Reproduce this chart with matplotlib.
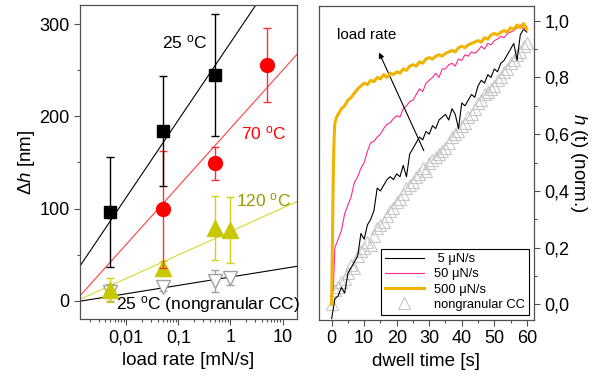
import numpy as np
import matplotlib
matplotlib.use('Agg')
import matplotlib.pyplot as plt
from matplotlib.ticker import FuncFormatter, MultipleLocator, LogLocator

plt.rcParams['font.family'] = ['Liberation Sans', 'DejaVu Sans']
plt.rcParams['mathtext.fontset'] = 'custom'
plt.rcParams['mathtext.rm'] = 'Liberation Sans'
plt.rcParams['mathtext.it'] = 'Liberation Sans:italic'

# ---- left panel data: creep depth vs load rate ----
rate_25 = [0.005, 0.05, 0.5]
dh_25 = [96, 184, 245]
err_25 = [60, 60, 66]

rate_70 = [0.05, 0.5, 5]
dh_70 = [99, 149, 256]
err_70 = [64, 18, 40]

rate_120 = [0.005, 0.05, 0.5, 1]
dh_120 = [11, 35, 79, 77]
err_120 = [13, 8, 35, 36]

rate_ng = [0.005, 0.05, 0.5, 1]
dh_ng = [9, 15, 21, 24]
err_ng = [9, 5, 12, 7]

# fit lines dh = a + b*log10(rate)
fit_25 = (280, 84)
fit_70 = (187, 63)
fit_120 = (75, 25.5)
fit_ng = (25.6, 9.1)

# ---- right panel data: normalised depth vs dwell time ----
t_5 = list(range(0, 61))
h_5 = [-0.05, 0.02, 0.03, 0.06, 0.04, 0.11, 0.13, 0.15, 0.17, 0.25, 0.23,
       0.28, 0.30, 0.33, 0.41, 0.40, 0.42, 0.44, 0.45, 0.44, 0.46,
       0.45, 0.49, 0.45, 0.53, 0.55, 0.57, 0.59, 0.58, 0.61, 0.60,
       0.63, 0.62, 0.65, 0.66, 0.67, 0.65, 0.69, 0.67, 0.62, 0.71,
       0.70, 0.72, 0.74, 0.73, 0.77, 0.79, 0.78, 0.81, 0.80, 0.83,
       0.82, 0.85, 0.86, 0.88, 0.90, 0.92, 0.86, 0.95, 0.97, 0.96]

t_50 = [0.5] + list(range(1, 61))
h_50 = [0.05, 0.20, 0.23, 0.26, 0.32, 0.35, 0.38, 0.43, 0.45, 0.48, 0.50,
        0.54, 0.57, 0.575, 0.59, 0.60, 0.62, 0.635, 0.64, 0.655, 0.665,
        0.66, 0.69, 0.70, 0.715, 0.72, 0.74, 0.76, 0.75, 0.78, 0.79,
        0.80, 0.815, 0.80, 0.83, 0.83, 0.845, 0.85, 0.84, 0.865, 0.86,
        0.88, 0.875, 0.89, 0.885, 0.895, 0.91, 0.90, 0.92, 0.915, 0.93,
        0.935, 0.945, 0.94, 0.955, 0.96, 0.965, 0.975, 0.985, 0.97, 0.98]

t_500 = [0, 0.2, 0.4, 0.6, 0.8, 1, 1.5] + list(range(2, 61))
h_500 = [0, 0.18, 0.38, 0.52, 0.60, 0.64, 0.66, 0.67, 0.69, 0.70, 0.72,
         0.73, 0.745, 0.76, 0.77, 0.78, 0.775, 0.79, 0.785, 0.80, 0.795,
         0.81, 0.80, 0.815, 0.81, 0.82, 0.815, 0.83, 0.825, 0.84, 0.845,
         0.84, 0.855, 0.85, 0.865, 0.87, 0.865, 0.875, 0.88, 0.875, 0.885,
         0.89, 0.895, 0.89, 0.905, 0.91, 0.905, 0.915, 0.92, 0.925, 0.93,
         0.925, 0.94, 0.935, 0.95, 0.955, 0.95, 0.96, 0.965, 0.96, 0.975,
         0.97, 0.985, 0.975, 0.99, 0.97]

t_ng = list(range(0, 61))
h_ng = [0.0, 0.05, 0.06, 0.08, 0.09, 0.11, 0.14, 0.13, 0.17, 0.19, 0.20,
        0.22, 0.21, 0.24, 0.27, 0.28, 0.29, 0.31, 0.33, 0.34, 0.36,
        0.37, 0.39, 0.41, 0.42, 0.43, 0.45, 0.46, 0.48, 0.47, 0.50,
        0.51, 0.52, 0.53, 0.54, 0.55, 0.57, 0.59, 0.60, 0.61, 0.63,
        0.64, 0.66, 0.67, 0.69, 0.71, 0.72, 0.74, 0.75, 0.76, 0.77,
        0.79, 0.80, 0.82, 0.83, 0.85, 0.86, 0.88, 0.89, 0.91, 0.92]

fig = plt.figure(figsize=(5.98, 3.80), dpi=100)
ax1 = fig.add_axes([0.1338, 0.1605, 0.3629, 0.8263])
ax2 = fig.add_axes([0.5334, 0.1579, 0.3595, 0.8271])

spine_col = '#505050'
deg = r'$^{\rm o}$'

# ---------- left ----------
xfit = np.logspace(np.log10(0.0013), np.log10(19), 50)
for (a, b), c in [(fit_25, 'black'), (fit_70, '#ff4040'), (fit_120, '#d8d830'), (fit_ng, 'black')]:
    ax1.plot(xfit, a + b * np.log10(xfit), color=c, lw=0.8, zorder=1)

ax1.errorbar(rate_ng, dh_ng, yerr=err_ng, fmt='v', ms=10, mfc='white', mec='#a0a0a0',
             ecolor='#a0a0a0', elinewidth=1, capsize=3, zorder=2)
ax1.errorbar(rate_120, dh_120, yerr=err_120, fmt='^', ms=11, color='#c8c800',
             ecolor='#d0d020', elinewidth=1, capsize=3, zorder=3)
ax1.errorbar(rate_70, dh_70, yerr=err_70, fmt='o', ms=10, color='#ff0000',
             ecolor='#ff3030', elinewidth=1, capsize=3, zorder=4)
ax1.errorbar(rate_25, dh_25, yerr=err_25, fmt='s', ms=9, color='black',
             ecolor='black', elinewidth=1, capsize=3, zorder=5)

ax1.text(0.049, 280, '25 ' + deg + 'C', fontsize=12.5, va='center')
ax1.text(1.58, 182, '70 ' + deg + 'C', fontsize=12.5, va='center', color='#ff0000')
ax1.text(1.27, 109, '120 ' + deg + 'C', fontsize=12.5, va='center', color='#999900')
ax1.text(0.0065, -4.5, '25 ' + deg + 'C (nongranular CC)', fontsize=12.5, va='center')

ax1.set_xscale('log')
ax1.set_xlim(0.0013, 19)
ax1.set_ylim(-20, 321)
ax1.yaxis.set_major_locator(MultipleLocator(100))
ax1.yaxis.set_minor_locator(MultipleLocator(50))
ax1.xaxis.set_major_locator(LogLocator(base=10, numticks=10))
ax1.xaxis.set_minor_locator(LogLocator(base=10, subs=np.arange(2, 10), numticks=10))
ax1.xaxis.set_major_formatter(FuncFormatter(lambda v, p: ('%g' % v).replace('.', ',')))
ax1.set_xlabel('load rate [mN/s]', fontsize=13.5)
ax1.set_ylabel(r'$\Delta h$ [nm]', fontsize=13.5, labelpad=2)

# ---------- right ----------
ax2.plot(t_ng, h_ng, linestyle='none', marker='^', ms=8, mfc='none', mec='#c8c8c8',
         mew=0.8, label='nongranular CC', zorder=1)
ax2.plot(t_5, h_5, color='black', lw=0.8, label=' 5 μN/s', zorder=2)
ax2.plot(t_50, h_50, color='#ff2a8a', lw=0.8, label='50 μN/s', zorder=3)
ax2.plot(t_500, h_500, color='#f0b400', lw=2.2, label='500 μN/s', zorder=4)

ax2.annotate('', xy=(14.2, 0.897), xytext=(28.7, 0.533),
             arrowprops=dict(arrowstyle='-|>', color='black', lw=0.8, mutation_scale=8))
ax2.text(1.5, 0.95, 'load rate', fontsize=11, va='center')

h = ax2.get_legend_handles_labels()
order = [1, 2, 3, 0]
leg = ax2.legend([h[0][i] for i in order], [h[1][i] for i in order], loc='lower right',
                 fontsize=9.3, fancybox=False, edgecolor='black', framealpha=1,
                 handlelength=3, borderaxespad=0.4, labelspacing=0.25, borderpad=0.3)
leg.get_frame().set_linewidth(0.8)

ax2.set_xlim(-3.9, 62.2)
ax2.set_ylim(-0.055, 1.053)
ax2.xaxis.set_major_locator(MultipleLocator(10))
ax2.xaxis.set_minor_locator(MultipleLocator(5))
ax2.yaxis.set_major_locator(MultipleLocator(0.2))
ax2.yaxis.set_minor_locator(MultipleLocator(0.1))
ax2.yaxis.tick_right()
ax2.yaxis.set_label_position('right')
ax2.yaxis.set_major_formatter(FuncFormatter(lambda v, p: ('%.1f' % v).replace('.', ',')))
ax2.set_xlabel('dwell time [s]', fontsize=13.5)
ax2.set_ylabel(r'$h$ (t) (norm.)', fontsize=13.5, rotation=-90, labelpad=14)

for ax in (ax1, ax2):
    for s in ax.spines.values():
        s.set_color(spine_col)
        s.set_linewidth(0.9)
    ax.tick_params(which='both', direction='out', color=spine_col, labelsize=13, width=0.8)
    ax.tick_params(which='major', length=4)
    ax.tick_params(which='minor', length=2.5)

fig.savefig('out.png', dpi=100)
